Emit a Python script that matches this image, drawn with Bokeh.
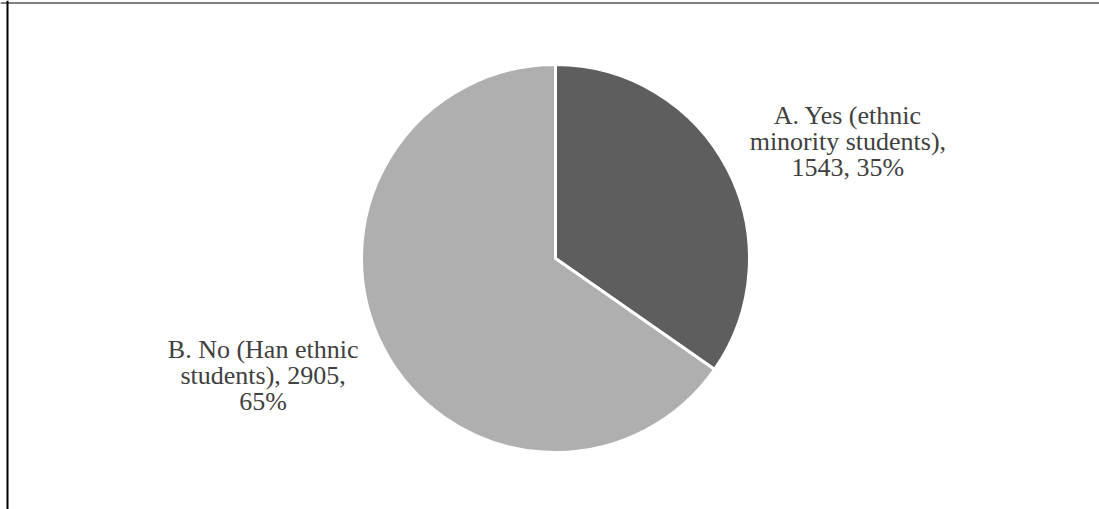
import math
from bokeh.plotting import figure
from bokeh.models import Range1d, ColumnDataSource, Span
from bokeh.core.properties import value
from bokeh.embed import file_html
from bokeh.resources import INLINE

# ---- data ----
categories = ["A. Yes (ethnic minority students)", "B. No (Han ethnic students)"]
counts = [1543, 2905]
label_lines = [
    ["A. Yes (ethnic", "minority students),"],
    ["B. No (Han ethnic", "students), 2905,"],
]
colors = ["#5e5e5e", "#afafaf"]

W, H = 1099, 509
total = sum(counts)
cx, cy, R = 555, H - 258, 194

starts, ends, mids, texts = [], [], [], []
a = math.pi / 2
for i, c in enumerate(counts):
    sweep = 2 * math.pi * c / total
    starts.append(a)
    ends.append(a - sweep)
    mids.append(a - sweep / 2)
    a -= sweep
    pct = round(100 * c / total)
    if i == 0:
        texts.append(f"{label_lines[0][0]}\n{label_lines[0][1]}\n{c}, {pct}%")
    else:
        texts.append(f"{label_lines[1][0]}\n{label_lines[1][1]}\n{pct}%")

src = ColumnDataSource(dict(
    cat=categories, count=counts, start=starts, end=ends, color=colors,
    x=[cx] * len(counts), y=[cy] * len(counts),
    lx=[cx + 1.70 * R * math.cos(m) for m in mids],
    ly=[cy + 1.30 * R * math.sin(m) for m in mids],
    label=texts,
))

p = figure(width=W, height=H, output_backend="svg", toolbar_location=None,
           x_range=Range1d(0, W), y_range=Range1d(0, H), min_border=0)
p.axis.visible = False
p.grid.visible = False
p.outline_line_color = None
p.background_fill_color = "white"
p.border_fill_color = "white"

p.wedge(x="x", y="y", radius=R, start_angle="start", end_angle="end",
        direction="clock", fill_color="color", line_color="white",
        line_width=3, source=src)

p.text(x="lx", y="ly", text="label", source=src, text_align="center",
       text_baseline="middle", text_font=value("Liberation Serif"),
       text_font_size="26px", text_color="#404040", text_line_height=0.9)

# chart frame (left and top edges visible in the crop)
p.add_layout(Span(location=7.0, dimension="height",
                  line_color="black", line_width=2))
p.add_layout(Span(location=H - 2.5, dimension="width",
                  line_color="black", line_width=1))

open("out.html", "w").write(file_html(p, INLINE))
